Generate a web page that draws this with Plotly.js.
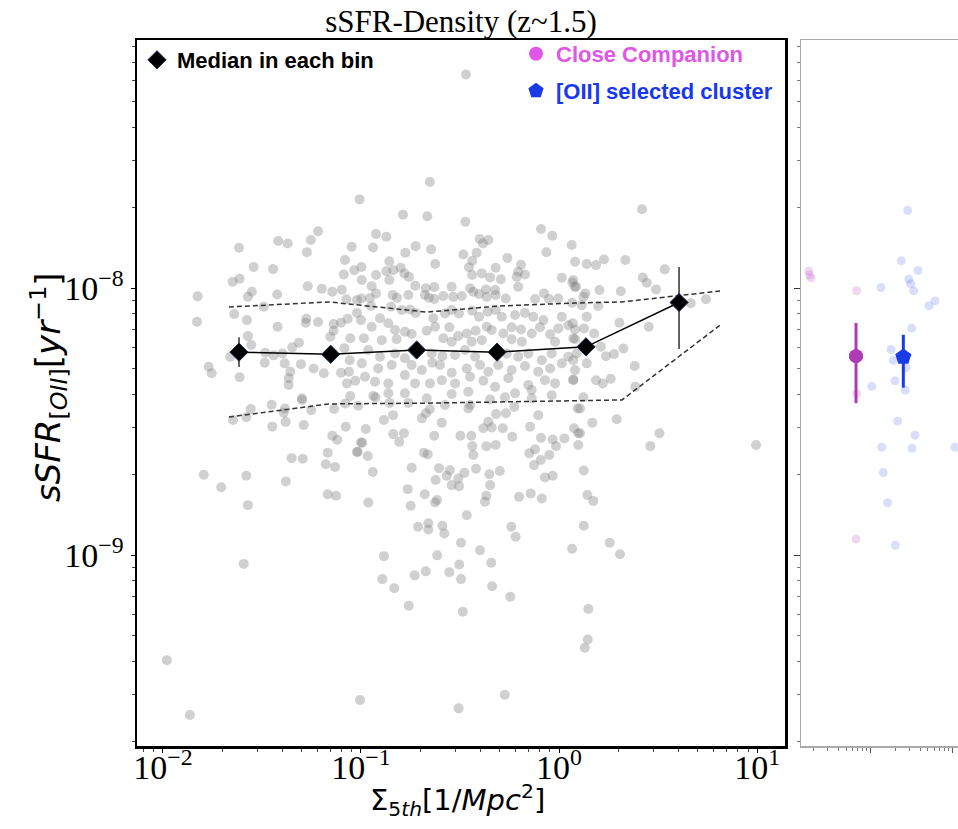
<!DOCTYPE html>
<html><head><meta charset="utf-8">
<script src="https://cdn.plot.ly/plotly-3.0.1.min.js"></script>
<style>html,body{margin:0;padding:0;background:#fff}</style>
</head><body><div id="chart" style="width:958px;height:829px"></div>
<script>
// ---- data (log10 values) ----
// Sigma_5th [1/Mpc^2], log10
const sigma5Log = [
-1.007,-1.217,-1.418,-1.370,-1.253,-1.616,-1.273,-1.047,-1.081,-1.034,
-1.087,-1.542,-1.444,-1.648,-1.613,-1.269,-1.198,-1.145,-1.097,-1.551,
-1.571,-1.423,-1.825,-1.074,-1.020,-1.491,-1.640,-1.828,-1.576,-1.276,
-1.279,-1.217,-1.138,-1.101,-1.067,-1.020,-1.421,-1.571,-1.138,-1.155,
-1.054,-1.313,-1.347,-1.554,-1.660,-1.483,-1.441,-1.397,-1.084,-1.057,
-1.486,-1.385,-1.303,-1.769,-1.754,-1.613,-1.357,-1.365,-1.239,-1.188,
-1.101,-1.061,-1.029,-1.071,-1.365,-1.298,-1.054,
-1.646,-1.579,-1.557,-1.451,-1.390,-1.384,-1.380,-1.448,-1.298,-1.289,
-1.251,-1.136,-1.079,-1.014,-1.077,-1.145,-1.120,-1.168,-1.020,-1.000,
-1.350,-1.294,-1.178,-1.131,-1.794,-1.579,-1.706,-1.379,-1.168,-1.126,
-1.571,-1.592,-1.980,-1.864,-1.005,
-0.470,-0.652,-0.788,-0.665,-0.473,-0.091,-0.924,-0.872,-0.034,-0.724,
-0.646,-0.939,-0.401,-0.357,-0.384,-0.776,-0.483,-0.416,-0.064,0.064,
-0.261,-0.857,-0.625,-0.438,-0.455,-0.320,-0.192,0.081,-0.799,-0.781,
-0.837,-0.872,-0.998,-0.924,-0.758,-0.439,-0.390,-0.348,-0.294,-0.214,
-0.172,-0.206,0.014,0.067,0.086,-0.996,-0.857,-0.726,-0.673,-0.630,
-0.542,-0.449,-0.433,-0.369,-0.323,-0.206,-0.946,-0.924,-0.840,-0.818,
-0.761,-0.677,-0.657,-0.630,-0.584,-0.534,-0.491,-0.404,-0.365,-0.320,
-0.269,-0.121,-0.076,-0.051,-0.004,-0.998,-0.955,-0.949,-0.904,-0.848,
-0.794,-0.753,-0.724,-0.635,-0.576,-0.542,-0.505,-0.438,-0.404,-0.360,
-0.320,-0.289,-0.222,-0.172,-0.130,-0.079,0.014,0.047,0.081,-1.000,
-0.946,-0.862,-0.828,-0.778,-0.744,-0.668,-0.626,-0.554,-0.509,-0.466,
-0.421,-0.365,-0.340,-0.281,-0.239,-0.192,-0.138,-0.096,-0.045,-0.004,
-0.985,-0.895,-0.820,-0.584,-0.542,-0.441,-0.390,-0.239,-0.188,-0.020,
0.081,-0.963,-0.904,-0.828,-0.778,-0.643,-0.589,-0.525,-0.475,-0.424,
-0.264,-0.206,-0.155,-0.087,-0.037,0.047,-0.996,-0.913,-0.845,-0.744,
-0.693,-0.640,-0.601,-0.542,-0.466,-0.399,-0.357,-0.307,-0.239,-0.172,
-0.105,-0.045,0.014,0.081,-0.980,-0.929,-0.862,-0.778,-0.727,-0.652,
-0.592,-0.525,-0.449,-0.382,-0.323,-0.256,-0.155,-0.071,-0.020,0.072,
-0.938,-0.778,-0.668,-0.542,-0.458,-0.348,-0.222,-0.138,-0.037,
-0.926,-0.862,-0.855,-0.761,-0.273,-0.226,-0.138,0.094,-0.884,-0.838,
-0.693,-0.672,-0.652,-0.592,-0.576,-0.458,-0.449,-0.357,-0.382,-0.340,
-0.318,-0.268,-0.284,-0.105,-0.146,-0.976,-0.837,-0.783,-0.807,-0.630,
-0.498,-0.443,-0.236,-0.091,-0.032,0.027,0.076,0.097,-0.993,-1.017,
-0.966,-0.682,-0.663,-0.438,-0.433,-0.367,-0.320,-0.150,-0.121,-0.092,
-0.049,-0.015,0.097,-0.126,-0.941,-0.744,-0.606,-0.551,-0.567,-0.509,
-0.478,-0.419,-0.352,-0.299,-0.071,-0.032,-0.623,-0.542,-0.505,-0.348,
-0.764,-0.678,-0.202,-0.143,-0.087,-0.367,-0.374,-0.963,-0.749,-0.626,
-0.616,-0.466,-0.712,-0.660,-0.660,-0.589,-0.579,-0.241,-0.219,-0.495,
-0.399,0.066,-0.884,-0.615,-0.504,-0.342,-0.892,-0.729,-0.673,-0.554,
-0.495,-0.832,-0.338,-0.246,-0.759,-0.486,-0.274,-0.507,
0.419,0.140,0.187,0.227,0.335,0.534,0.423,0.443,0.490,0.312,
0.204,0.133,0.123,0.079,0.072,0.742,0.665,0.066,0.115,0.198,
0.140,0.069,0.305,0.453,0.126,0.177,0.072,0.211,0.089,0.237,
0.278,0.325,0.140,0.382,0.072,0.072,0.187,0.221,0.261,0.385,
0.123,0.106,0.168,0.291,0.106,0.507,0.461,0.995,0.125,0.143,
0.173,0.125,0.256,0.308,0.148,0.145,0.130
];
// sSFR_[OII] [yr^-1], log10
const ssfrLog = [
-7.668,-7.787,-7.824,-7.833,-7.820,-7.849,-7.866,-7.845,-7.895,-7.933,
-7.949,-7.921,-7.929,-7.976,-7.965,-7.993,-8.003,-8.014,-8.006,-8.014,
-8.033,-8.024,-8.031,-8.042,-8.045,-8.070,-8.097,-8.126,-8.120,-8.115,
-8.130,-8.127,-8.135,-8.130,-8.115,-8.093,-8.145,-8.180,-8.160,-8.182,
-8.188,-8.205,-8.222,-8.213,-8.257,-8.242,-8.252,-8.245,-8.225,-8.270,
-8.280,-8.282,-8.285,-8.295,-8.319,-8.334,-8.313,-8.338,-8.301,-8.319,
-8.317,-8.313,-8.347,-8.357,-8.363,-8.413,-8.404,
-8.494,-8.484,-8.453,-8.437,-8.467,-8.451,-8.501,-8.519,-8.419,-8.513,
-8.457,-8.453,-8.432,-8.441,-8.519,-8.553,-8.568,-8.617,-8.614,-8.578,
-8.637,-8.639,-8.660,-8.670,-8.699,-8.703,-8.746,-8.724,-8.772,-8.778,
-8.813,-9.033,-9.394,-9.599,-9.543,
-7.200,-7.603,-7.725,-7.731,-7.752,-7.779,-7.798,-7.808,-7.804,-7.843,
-7.855,-7.848,-7.816,-7.820,-7.833,-7.868,-7.874,-7.868,-7.866,-7.839,
-7.887,-7.900,-7.910,-7.898,-7.922,-7.924,-7.913,-7.901,-7.924,-7.945,
-7.933,-7.937,-7.921,-7.951,-7.958,-7.951,-7.945,-7.960,-7.967,-7.958,
-7.949,-7.939,-7.961,-7.979,-7.995,-7.970,-7.970,-7.991,-8.001,-7.996,
-7.995,-8.001,-8.014,-8.005,-8.007,-7.995,-7.993,-8.020,-8.026,-8.036,
-8.026,-8.026,-8.036,-8.041,-8.030,-8.033,-8.030,-8.022,-8.033,-8.026,
-8.039,-8.041,-8.020,-8.041,-8.039,-8.039,-8.037,-8.067,-8.113,-8.070,
-8.082,-8.080,-8.093,-8.113,-8.095,-8.082,-8.095,-8.085,-8.107,-8.089,
-8.082,-8.107,-8.101,-8.093,-8.107,-8.120,-8.107,-8.139,-8.155,-8.120,
-8.145,-8.132,-8.157,-8.164,-8.172,-8.160,-8.145,-8.147,-8.180,-8.170,
-8.160,-8.145,-8.157,-8.170,-8.147,-8.155,-8.170,-8.147,-8.173,-8.151,
-8.188,-8.195,-8.192,-8.188,-8.201,-8.201,-8.195,-8.192,-8.201,-8.201,
-8.192,-8.232,-8.257,-8.245,-8.263,-8.245,-8.255,-8.251,-8.232,-8.257,
-8.245,-8.257,-8.245,-8.270,-8.245,-8.257,-8.282,-8.301,-8.288,-8.288,
-8.307,-8.280,-8.288,-8.317,-8.301,-8.288,-8.313,-8.288,-8.307,-8.292,
-8.313,-8.301,-8.282,-8.307,-8.332,-8.351,-8.357,-8.326,-8.357,-8.357,
-8.345,-8.357,-8.332,-8.347,-8.370,-8.338,-8.363,-8.345,-8.357,-8.342,
-8.404,-8.394,-8.413,-8.397,-8.388,-8.417,-8.394,-8.413,-8.401,
-8.409,-8.394,-8.430,-8.430,-8.409,-8.445,-8.382,-8.451,-8.494,-8.476,
-8.488,-8.469,-8.453,-8.504,-8.438,-8.451,-8.438,-8.501,-8.525,-8.522,
-8.472,-8.469,-8.525,-8.476,-8.519,-8.528,-8.547,-8.544,-8.576,-8.553,
-8.553,-8.553,-8.557,-8.561,-8.567,-8.563,-8.525,-8.544,-8.579,-8.613,
-8.629,-8.617,-8.623,-8.592,-8.625,-8.592,-8.588,-8.619,-8.604,-8.644,
-8.625,-8.592,-8.588,-8.663,-8.689,-8.673,-8.675,-8.682,-8.703,-8.713,
-8.692,-8.677,-8.697,-8.685,-8.709,-8.703,-8.719,-8.738,-8.742,-8.738,
-8.753,-8.772,-8.782,-8.769,-8.788,-8.778,-8.800,-8.803,-8.815,-8.803,
-8.794,-8.851,-8.894,-8.881,-8.904,-8.890,-8.919,-8.894,-8.931,-8.954,
-8.982,-8.976,-9.004,-9.001,-9.035,-9.029,-9.090,-9.076,-9.061,-9.064,
-9.090,-9.124,-9.117,-9.156,-9.190,-9.212,-9.523,-9.574,
-7.705,-7.910,-7.914,-7.893,-7.895,-7.930,-7.960,-7.980,-8.005,-8.012,
-8.007,-8.020,-8.033,-7.995,-7.970,-8.042,-8.057,-8.055,-8.064,-8.067,
-8.107,-8.132,-8.130,-8.145,-8.151,-8.170,-8.188,-8.220,-8.245,-8.255,
-8.247,-8.226,-8.282,-8.292,-8.270,-8.345,-8.345,-8.357,-8.340,-8.370,
-8.409,-8.451,-8.504,-8.491,-8.544,-8.544,-8.592,-8.588,-8.683,-8.775,
-8.797,-8.890,-8.954,-8.997,-9.202,-9.316,-9.347
];

// median in each bin (log10)
const medSigmaLog = [-1.616, -1.153, -0.719, -0.313, 0.136, 0.606];
const medSsfrLog  = [-8.240, -8.248, -8.232, -8.240, -8.220, -8.054];
const medUpperLog = [-8.184, -8.225, -8.212, -8.222, -8.195, -7.921];
const medLowerLog = [-8.296, -8.270, -8.252, -8.258, -8.245, -8.228];

// percentile envelopes (dashed), log10
const envSigmaLog = [-1.667, -1.162, -0.667, -0.298, 0.081, 0.318, 0.813];
const envUpperLog = [-8.071, -8.052, -8.090, -8.067, -8.056, -8.052, -8.011];
const envLowerLog = [-8.483, -8.434, -8.431, -8.427, -8.423, -8.419, -8.139];

// right panel: close companion and [OII] selected cluster (log10)
const ccXLog = [-0.756, -0.746, -0.728, -0.171, -0.171, -0.179];
const ccYLog = [-7.936, -7.951, -7.962, -8.010, -8.396, -8.940];
const clXLog = [0.451,0.373,0.577,0.463,0.488,0.524,0.126,0.711,0.784,0.500,
                0.248,0.276,0.430,0.296,0.012,0.422,0.329,0.540,0.134,0.504,
                1.028,0.154,0.207,0.300];
const clYLog = [-7.709,-7.898,-7.934,-7.967,-7.984,-8.010,-7.998,-8.066,-8.048,-8.150,
                -8.230,-8.271,-8.299,-8.347,-8.368,-8.382,-8.498,-8.551,-8.596,-8.600,
                -8.596,-8.691,-8.804,-8.963];
const ccMed = {x: -0.179, y: -8.255, up: -8.131, lo: -8.431};
const clMed = {x: 0.398, y: -8.258, up: -8.175, lo: -8.373};

// tick labels
const xTickVals = [0.01, 0.1, 1, 10];
const xTickText = ['10<sup>−2</sup>', '10<sup>−1</sup>', '10<sup>0</sup>', '10<sup>1</sup>'];
const yTickVals = [1e-9, 1e-8];
const yTickText = ['10<sup>−9</sup>', '10<sup>−8</sup>'];

const p10 = a => a.map(v => Math.pow(10, v));
const errUp = (y, u) => y.map((v, i) => Math.pow(10, u[i]) - Math.pow(10, v));
const errLo = (y, l) => y.map((v, i) => Math.pow(10, v) - Math.pow(10, l[i]));

const traces = [
  {x: p10(sigma5Log), y: p10(ssfrLog), type: 'scatter', mode: 'markers',
   marker: {size: 10, color: 'rgba(128,128,128,0.37)', line: {width: 0}},
   showlegend: false, hoverinfo: 'skip'},
  {x: p10(envSigmaLog), y: p10(envUpperLog), type: 'scatter', mode: 'lines',
   line: {color: '#333', width: 1.5, dash: '5px,3px'}, showlegend: false},
  {x: p10(envSigmaLog), y: p10(envLowerLog), type: 'scatter', mode: 'lines',
   line: {color: '#333', width: 1.5, dash: '5px,3px'}, showlegend: false},
  {x: p10(medSigmaLog), y: p10(medSsfrLog), type: 'scatter', mode: 'lines',
   line: {color: '#000', width: 1.5}, showlegend: false},
  {x: p10(medSigmaLog), y: p10(medSsfrLog), type: 'scatter', mode: 'markers',
   name: 'Median in each bin', legend: 'legend',
   marker: {symbol: 'diamond', size: 14, color: '#000', line: {color: '#1c2a4a', width: 1}},
   error_y: {type: 'data', symmetric: false, array: errUp(medSsfrLog, medUpperLog),
             arrayminus: errLo(medSsfrLog, medLowerLog), color: '#333', thickness: 1.5, width: 0}},
  {x: p10(ccXLog), y: p10(ccYLog), xaxis: 'x2', yaxis: 'y2', type: 'scatter', mode: 'markers',
   marker: {size: 9, color: 'rgba(200,110,205,0.28)'}, showlegend: false},
  {x: p10(clXLog), y: p10(clYLog), xaxis: 'x2', yaxis: 'y2', type: 'scatter', mode: 'markers',
   marker: {size: 9, color: 'rgba(70,90,235,0.2)'}, showlegend: false},
  // close-companion sample marker (legend entry), drawn under its median marker
  {x: p10([ccMed.x]), y: p10([ccMed.y]), xaxis: 'x2', yaxis: 'y2', type: 'scatter', mode: 'markers',
   name: 'Close Companion', legend: 'legend2', marker: {size: 14, color: '#e056e6'}},
  {x: p10([ccMed.x]), y: p10([ccMed.y]), xaxis: 'x2', yaxis: 'y2', type: 'scatter', mode: 'markers',
   marker: {size: 14, color: '#b03cb4'}, showlegend: false,
   error_y: {type: 'data', symmetric: false, array: errUp([ccMed.y], [ccMed.up]),
             arrayminus: errLo([ccMed.y], [ccMed.lo]), color: '#b03cb4', thickness: 3, width: 0}},
  {x: p10([clMed.x]), y: p10([clMed.y]), xaxis: 'x2', yaxis: 'y2', type: 'scatter', mode: 'markers',
   name: '[OII] selected cluster', legend: 'legend3',
   marker: {symbol: 'pentagon', size: 17, color: '#1a3ae6'},
   error_y: {type: 'data', symmetric: false, array: errUp([clMed.y], [clMed.up]),
             arrayminus: errLo([clMed.y], [clMed.lo]), color: '#1a3ae6', thickness: 3, width: 0}}
];

const W = 958, H = 829;
const tickFont = {family: 'Liberation Serif, serif', size: 34, color: '#000'};
const minorTicks = {ticks: 'outside', ticklen: 3, tickcolor: '#444', dtick: 'D1'};
const legendFont = {family: 'Liberation Sans, Arial, sans-serif', size: 22, weight: 'bold'};
const layout = {
  width: W, height: H,
  margin: {l: 0, r: 0, t: 0, b: 0},
  paper_bgcolor: '#fff', plot_bgcolor: '#fff',
  showlegend: true,
  title: {text: 'sSFR-Density (z~1.5)', x: 461 / W, xanchor: 'center', y: 1 - 21 / H, yanchor: 'middle',
          font: {family: 'Liberation Serif, serif', size: 31, color: '#000'}},
  xaxis: {type: 'log', range: [-2.131, 1.141], domain: [137 / W, 785 / W], anchor: 'y',
          showline: true, linecolor: '#000', linewidth: 2.5, mirror: true,
          ticks: 'outside', ticklen: 4, tickcolor: '#000',
          tickmode: 'array', tickvals: xTickVals, ticktext: xTickText, ticklabelstandoff: -14,
          minor: minorTicks, showgrid: false, zeroline: false, tickfont: tickFont},
  yaxis: {type: 'log', range: [-9.715, -7.071], domain: [1 - 746 / H, 1 - 40 / H], anchor: 'x',
          showline: true, linecolor: '#000', linewidth: 2.5, mirror: true,
          ticks: 'outside', ticklen: 4, tickcolor: '#000',
          tickmode: 'array', tickvals: yTickVals, ticktext: yTickText,
          minor: minorTicks, showgrid: false, zeroline: false, tickfont: tickFont},
  xaxis2: {type: 'log', range: [-0.85, 1.065], domain: [801 / W, 1], anchor: 'y2',
           showline: true, linecolor: '#aaa', linewidth: 1.5, mirror: true,
           ticks: 'outside', ticklen: 5, tickcolor: '#555', dtick: 1, showticklabels: false,
           minor: {ticks: 'outside', ticklen: 3, tickcolor: '#777'},
           showgrid: false, zeroline: false},
  yaxis2: {type: 'log', range: [-9.715, -7.071], domain: [1 - 746 / H, 1 - 40 / H], anchor: 'x2',
           showline: true, linecolor: '#aaa', linewidth: 1.5, mirror: false,
           ticks: 'outside', ticklen: 6, tickcolor: '#333', dtick: 1, showticklabels: false,
           minor: {ticks: 'outside', ticklen: 3, tickcolor: '#777'},
           showgrid: false, zeroline: false},
  legend: {x: 137 / W, xanchor: 'left', y: 1 - 39 / H, yanchor: 'top', bgcolor: 'rgba(0,0,0,0)',
           font: Object.assign({color: '#000'}, legendFont)},
  legend2: {x: 516 / W, xanchor: 'left', y: 1 - 33 / H, yanchor: 'top', bgcolor: 'rgba(0,0,0,0)',
           font: Object.assign({color: '#e056e6'}, legendFont)},
  legend3: {x: 516 / W, xanchor: 'left', y: 1 - 70 / H, yanchor: 'top', bgcolor: 'rgba(0,0,0,0)',
           font: Object.assign({color: '#1638f0'}, legendFont)},
  annotations: [
    {text: 'Σ<sub>5<i>th</i></sub>[1/<i>Mpc</i><sup>2</sup>]', xref: 'paper', yref: 'paper',
     x: 457 / W, y: 1 - 800 / H, xanchor: 'center', yanchor: 'middle', showarrow: false,
     font: {family: 'DejaVu Sans, sans-serif', size: 29, color: '#000'}},
    {text: '<i>sSFR</i><sub>[<i>OII</i>]</sub>[<i>yr</i><sup>−1</sup>]', xref: 'paper', yref: 'paper',
     x: 48 / W, y: 1 - 387 / H, xanchor: 'center', yanchor: 'middle', showarrow: false, textangle: -90,
     font: {family: 'DejaVu Sans, sans-serif', size: 34, color: '#000'}}
  ]
};

Plotly.newPlot('chart', traces, layout, {staticPlot: true});
</script></body></html>
